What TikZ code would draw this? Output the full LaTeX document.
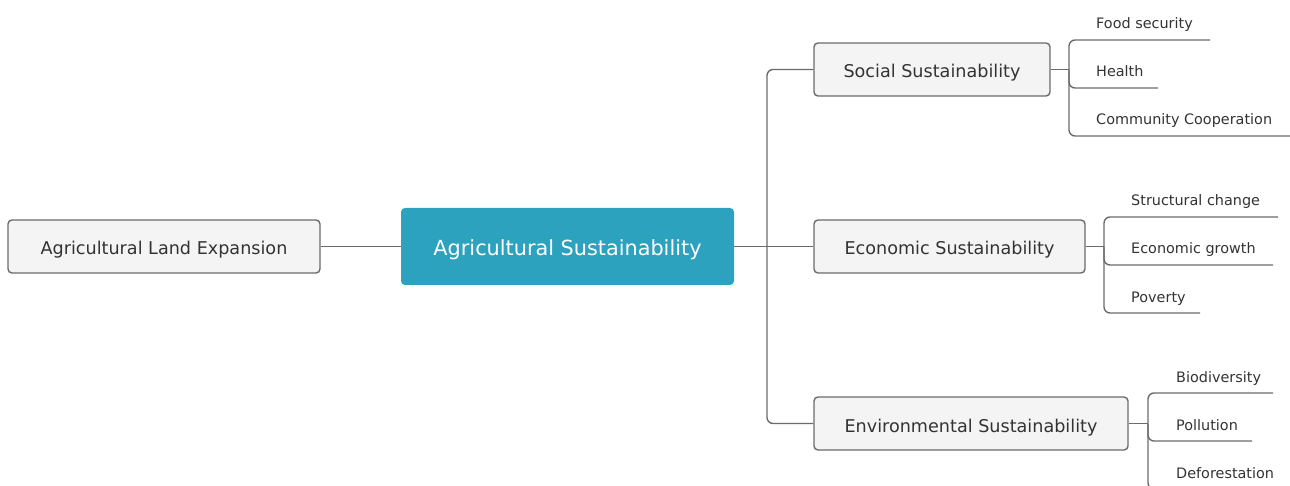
\documentclass[tikz,border=0pt]{standalone}
\usepackage{fontspec}
\setmainfont{DejaVu Sans}
\definecolor{linec}{HTML}{6B6B6B}
\definecolor{boxfill}{HTML}{F4F4F4}
\definecolor{txtc}{HTML}{333333}
\definecolor{mainfill}{HTML}{2CA2BF}
\begin{document}
\begin{tikzpicture}[x=1pt,y=-1pt,
  topic/.style={draw=linec, line width=1.4pt, fill=boxfill, rounded corners=4pt, text=txtc,
     font=\fontsize{17.6}{20}\selectfont, inner sep=0pt, anchor=center, text height=17pt, text depth=0pt},
  central/.style={fill=mainfill, rounded corners=4pt, text=white,
     font=\fontsize{20.8}{24}\selectfont, inner sep=0pt, minimum width=333pt, minimum height=77pt,
     text height=19pt, text depth=0pt},
  leaf/.style={text=txtc, font=\fontsize{14.4}{17}\selectfont, inner sep=0pt, anchor=base west},
  conn/.style={draw=linec, line width=1.4pt, rounded corners=6pt}
]
\useasboundingbox (0,0) rectangle (1290,486);

\node[central] (c) at (567.5,246.5) {Agricultural Sustainability};
\node[topic, minimum width=312pt, minimum height=53pt] (l) at (164,246.5) {Agricultural Land Expansion};
\node[topic, minimum width=236pt, minimum height=53pt] (s) at (932,69.5) {Social Sustainability};
\node[topic, minimum width=271pt, minimum height=53pt] (e) at (949.5,246.5) {Economic Sustainability};
\node[topic, minimum width=314pt, minimum height=53pt] (v) at (971,423.5) {Environmental Sustainability};

% trunk
\coordinate (t) at (767,246.5);
\draw[conn] (l.east) -- (c.west);
\draw[conn] (c.east) -- (t);
\draw[conn] (t) |- (s.west);
\draw[conn] (t) |- (v.west);
\draw[conn] (t) -- (e.west);

% social leaves
\coordinate (sb) at (1069,69.5);
\coordinate (s1) at (1210,40);
\coordinate (s2) at (1158,88);
\coordinate (s3) at (1290,136);
\draw[conn] (s.east) -- (sb);
\draw[conn] (sb) |- (s1);
\draw[conn] (sb) |- (s2);
\draw[conn] (sb) |- (s3);
\node[leaf] (s1t) at (1096,29) {Food security};
\node[leaf] (s2t) at (1096,77) {Health};
\node[leaf] (s3t) at (1096,125) {Community Cooperation};

% economic leaves
\coordinate (eb) at (1104,246.5);
\coordinate (e1) at (1278,217);
\coordinate (e2) at (1273,265);
\coordinate (e3) at (1200,313);
\draw[conn] (e.east) -- (eb);
\draw[conn] (eb) |- (e1);
\draw[conn] (eb) |- (e2);
\draw[conn] (eb) |- (e3);
\node[leaf] (e1t) at (1131,206) {Structural change};
\node[leaf] (e2t) at (1131,254) {Economic growth};
\node[leaf] (e3t) at (1131,302) {Poverty};

% environmental leaves
\coordinate (vb) at (1148,423.5);
\coordinate (v1) at (1273,393);
\coordinate (v2) at (1252,441);
\coordinate (v3) at (1290,489);
\draw[conn] (v.east) -- (vb);
\draw[conn] (vb) |- (v1);
\draw[conn] (vb) |- (v2);
\draw[conn] (vb) |- (v3);
\node[leaf] (v1t) at (1176,382) {Biodiversity};
\node[leaf] (v2t) at (1176,430) {Pollution};
\node[leaf] (v3t) at (1176,478) {Deforestation};
\end{tikzpicture}
\end{document}
